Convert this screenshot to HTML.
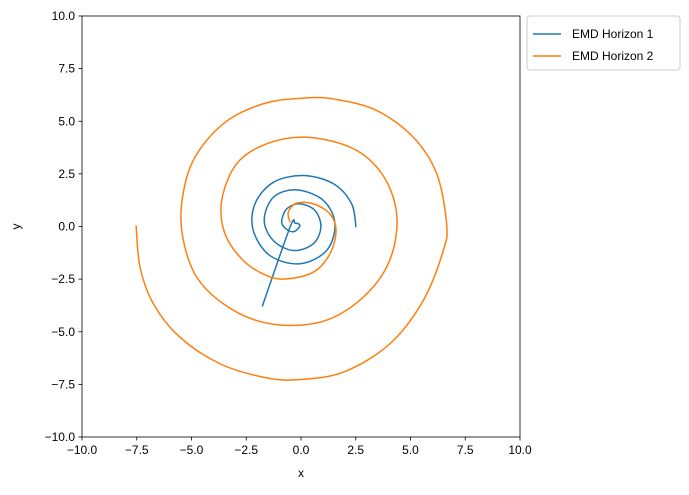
<!DOCTYPE html>
<html><head><meta charset="utf-8"><style>body{margin:0;background:#fff}text{font-family:"Liberation Sans",sans-serif;font-size:12px;fill:#000}</style></head>
<body>
<svg id="c" width="689" height="490" xmlns="http://www.w3.org/2000/svg"></svg>
<script>
const xTicks=[-10,-7.5,-5,-2.5,0,2.5,5,7.5,10];
const yTicks=[-10,-7.5,-5,-2.5,0,2.5,5,7.5,10];
const tickLabels=["−10.0","−7.5","−5.0","−2.5","0.0","2.5","5.0","7.5","10.0"];
const seriesNames=["EMD Horizon 1","EMD Horizon 2"];
const h1x=[2.51,2.31,1.48,0.11,-1.26,-2.1,-2.18,-1.42,-0.05,1.17,1.55,1.02,-0.2,-1.26,-1.68,-1.26,-0.35,0.56,0.91,0.64,-0.05,-0.65,-0.88,-0.58,-0.27,-0.05,-0.27,-0.5,-1.77];
const h1y=[-0.03,1.08,2.03,2.42,2.1,1.08,-0.19,-1.38,-1.77,-1.14,0.13,1.24,1.74,1.39,0.29,-0.67,-1.14,-0.82,-0.03,0.76,1.08,0.84,0.2,-0.19,-0.22,0.05,0.16,-0.03,-3.8];
const h2x=[-7.53,-7.35,-6.74,-5.53,-3.7,-1.72,-0.2,1.93,4.06,5.58,6.5,6.65,6.2,5.13,3.46,1.63,0.26,-1.72,-3.55,-4.92,-5.45,-5.37,-4.76,-3.55,-2.02,-0.35,1.32,2.84,3.91,4.37,4.21,3.46,2.24,0.26,-1.57,-2.94,-3.62,-3.47,-2.63,-1.57,-0.65,0.56,1.32,1.6,1.32,0.56,-0.2,-0.58,-0.5];
const h2y=[0.05,-1.93,-3.67,-5.26,-6.52,-7.16,-7.28,-6.92,-5.57,-3.52,-1.14,0.13,2.5,4.24,5.51,6.03,6.11,5.83,4.88,3.14,1.08,-0.67,-2.41,-3.67,-4.47,-4.7,-4.39,-3.36,-1.93,-0.19,1.39,2.82,3.77,4.24,3.93,2.98,1.24,-0.35,-1.62,-2.33,-2.49,-2.17,-1.3,-0.19,0.6,1.08,1.11,0.68,0.2];
const L=82,R=520,T=16,B=437;
const sx=v=>L+(v+10)/20*(R-L), sy=v=>B-(v+10)/20*(B-T);
const svg=document.getElementById('c');const NS="http://www.w3.org/2000/svg";
function mk(t,a,p){const e=document.createElementNS(NS,t);for(const k in a)e.setAttribute(k,a[k]);(p||svg).appendChild(e);return e;}
function path(xs,ys){const p=xs.map((x,i)=>[sx(x),sy(ys[i])]);let d="M"+p[0][0]+","+p[0][1];
for(let i=0;i<p.length-1;i++){const p0=p[Math.max(0,i-1)],p1=p[i],p2=p[i+1],p3=p[Math.min(p.length-1,i+2)];
d+=" C"+(p1[0]+(p2[0]-p0[0])/6)+","+(p1[1]+(p2[1]-p0[1])/6)+" "+(p2[0]-(p3[0]-p1[0])/6)+","+(p2[1]-(p3[1]-p1[1])/6)+" "+p2[0]+","+p2[1];}return d;}
const s1=mk('path',{d:path(h1x,h1y),fill:'none',stroke:'#1f77b4','stroke-width':1.5,'stroke-linejoin':'round'});

const s2=mk('path',{d:path(h2x,h2y),fill:'none',stroke:'#ff7f0e','stroke-width':1.5,'stroke-linejoin':'round'});

const fr=mk('rect',{x:L,y:T,width:R-L,height:B-T,fill:'none',stroke:'#000','stroke-width':0.8});

xTicks.forEach((v,i)=>{const x=sx(v);mk('line',{x1:x,x2:x,y1:B,y2:B+3.5,stroke:'#000','stroke-width':0.8});
const t=mk('text',{x:x,y:B+17,'text-anchor':'middle'});t.textContent=tickLabels[i];
});
yTicks.forEach((v,i)=>{const y=sy(v);mk('line',{x1:L,x2:L-3.5,y1:y,y2:y,stroke:'#000','stroke-width':0.8});
const t=mk('text',{x:L-7,y:y+4,'text-anchor':'end'});t.textContent=tickLabels[i];
});
const xt=mk('text',{x:(L+R)/2,y:477,'text-anchor':'middle'});xt.textContent='x';

const yt=mk('text',{x:20,y:(T+B)/2,'text-anchor':'middle',transform:'rotate(-90 20 '+(T+B)/2+')'});yt.textContent='y';

const lg=mk('g',{});
mk('rect',{x:527,y:16,width:153,height:54,rx:3,fill:'#fff',stroke:'#ccc'},lg);
const cols=['#1f77b4','#ff7f0e'];
seriesNames.forEach((n,i)=>{const y=34+i*22;mk('line',{x1:533,x2:561,y1:y,y2:y,stroke:cols[i],'stroke-width':1.5},lg);
const t=mk('text',{x:572,y:y+4},lg);t.textContent=n;});
</script>
</body></html>
